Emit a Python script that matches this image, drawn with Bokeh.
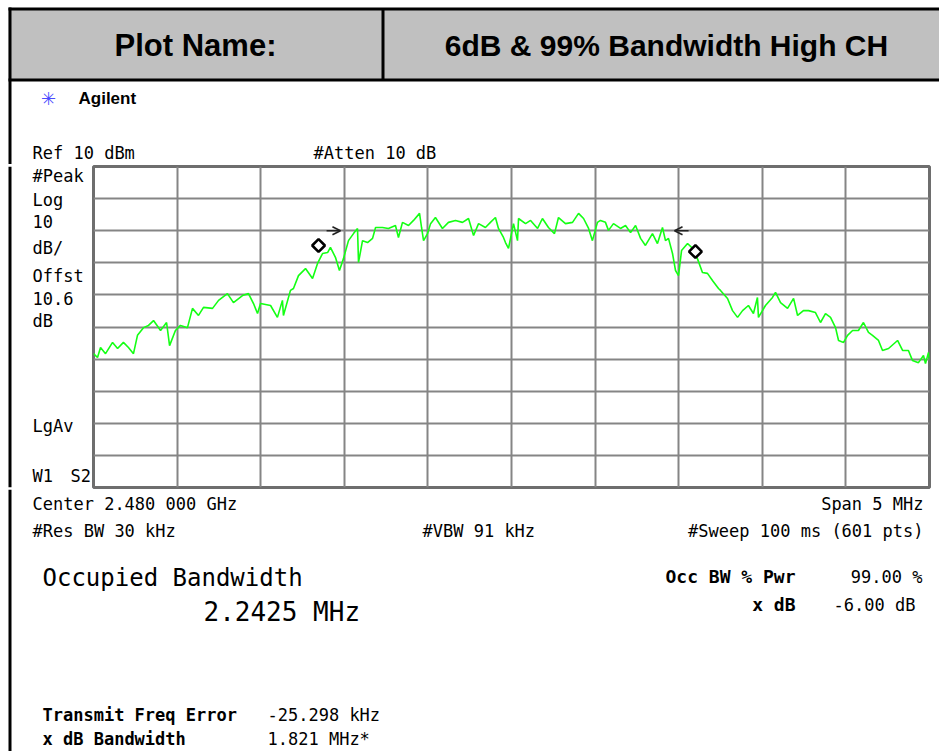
from bokeh.plotting import figure
from bokeh.layouts import column, row
from bokeh.models import (Range1d, FixedTicker, Grid, Arrow, OpenHead, ColumnDataSource)
from bokeh.core.properties import value
from bokeh.embed import file_html
from bokeh.resources import INLINE

# ---------------- data ----------------
center_ghz = 2.480
span_mhz = 5.0
ref_dbm = 10.0
db_per_div = 10.0

# trace: frequency offset from centre (MHz) and level (dBm)
freq_offset_mhz = [
    -2.500, -2.476, -2.458, -2.428, -2.386, -2.356, -2.321, -2.291, -2.261, -2.237,
    -2.201, -2.171, -2.141, -2.099, -2.063, -2.045, -2.010, -1.980, -1.938, -1.908,
    -1.872, -1.842, -1.788, -1.752, -1.699, -1.663, -1.609, -1.573, -1.543, -1.519,
    -1.501, -1.441, -1.400, -1.370, -1.364, -1.322, -1.304, -1.274, -1.232, -1.190,
    -1.160, -1.130, -1.100, -1.083, -1.053, -1.029, -1.005, -0.975, -0.945, -0.921,
    -0.915, -0.891, -0.861, -0.831, -0.813, -0.772, -0.736, -0.694, -0.676, -0.652,
    -0.616, -0.586, -0.550, -0.538, -0.526, -0.502, -0.484, -0.455, -0.413, -0.377,
    -0.335, -0.293, -0.257, -0.227, -0.197, -0.156, -0.126, -0.096, -0.078, -0.048,
    -0.036, -0.018, 0.012, 0.036, 0.042, 0.084, 0.114, 0.156, 0.185, 0.221,
    0.257, 0.281, 0.323, 0.365, 0.401, 0.431, 0.461, 0.484, 0.514, 0.532,
    0.562, 0.580, 0.610, 0.652, 0.682, 0.712, 0.742, 0.772, 0.801, 0.843,
    0.873, 0.903, 0.921, 0.939, 0.963, 0.981, 0.999, 1.017, 1.053, 1.083,
    1.112, 1.142, 1.172, 1.202, 1.238, 1.250, 1.292, 1.322, 1.352, 1.382,
    1.417, 1.447, 1.471, 1.477, 1.519, 1.561, 1.579, 1.609, 1.651, 1.687,
    1.711, 1.746, 1.776, 1.818, 1.848, 1.878, 1.908, 1.938, 1.956, 1.986,
    2.010, 2.040, 2.075, 2.105, 2.135, 2.159, 2.195, 2.219, 2.255, 2.309,
    2.339, 2.374, 2.398, 2.434, 2.464, 2.476, 2.494, 2.500,
]
level_dbm = [
    -48.3, -49.5, -46.4, -48.3, -44.8, -46.7, -44.8, -46.4, -48.3, -42.6,
    -40.2, -39.5, -38.0, -41.1, -38.6, -45.8, -41.1, -39.5, -40.2, -34.2,
    -36.4, -33.9, -34.2, -31.7, -29.6, -32.4, -30.2, -29.6, -32.7, -35.8,
    -32.7, -33.3, -37.0, -31.7, -36.4, -28.6, -28.0, -24.0, -21.8, -24.9,
    -20.2, -17.1, -16.8, -15.2, -18.3, -22.4, -18.7, -13.1, -10.9, -9.3,
    -19.9, -13.1, -13.7, -12.4, -9.0, -9.0, -9.3, -8.4, -12.1, -7.4,
    -8.4, -6.8, -4.6, -9.0, -13.1, -10.9, -7.8, -5.9, -9.3, -7.4,
    -6.8, -7.4, -6.2, -11.5, -7.8, -9.0, -7.4, -5.9, -9.3, -12.1,
    -13.7, -15.5, -7.8, -13.1, -6.2, -7.8, -6.8, -9.3, -6.2, -9.0,
    -10.9, -5.9, -7.8, -7.4, -4.6, -6.2, -9.3, -13.1, -7.4, -6.8,
    -7.4, -9.9, -7.8, -9.3, -8.4, -10.6, -8.4, -12.4, -14.6, -10.9,
    -14.0, -9.0, -13.1, -12.4, -17.1, -22.4, -24.0, -16.2, -14.0, -15.5,
    -18.7, -23.0, -23.3, -25.5, -28.0, -28.6, -31.1, -34.9, -37.0, -34.9,
    -33.3, -35.8, -30.8, -37.0, -33.3, -30.8, -29.2, -32.4, -34.2, -31.1,
    -36.4, -34.9, -34.9, -35.5, -38.6, -35.8, -37.0, -40.2, -44.2, -44.8,
    -42.6, -41.1, -41.1, -38.6, -41.7, -42.6, -44.2, -47.3, -46.7, -44.2,
    -47.3, -47.3, -50.4, -51.1, -48.9, -51.4, -47.9, -50.1,
]

# 99 % occupied-bandwidth markers (diamonds)
marker_offset_mhz = [-1.154, 1.100]
marker_dbm = [-14.6, -16.5]

# x dB bandwidth arrows
arrow_start_mhz = [-1.106, 1.059]
arrow_end_mhz = [-1.023, 0.975]
arrow_dbm = [-10.0, -10.0]

# texts
header_left = "Plot Name:"
header_right = "6dB & 99% Bandwidth High CH"
brand = "Agilent"
ref_text = "Ref 10 dBm"
atten_text = "#Atten 10 dB"
left_labels = ["#Peak", "Log", "10", "dB/", "Offst", "10.6", "dB"]
avg_label = "LgAv"
window_labels = ["W1", "S2"]
center_text = "Center 2.480 000 GHz"
span_text = "Span 5 MHz"
rbw_text = "#Res BW 30 kHz"
vbw_text = "#VBW 91 kHz"
sweep_text = "#Sweep 100 ms (601 pts)"
obw_title = "Occupied Bandwidth"
obw_value = "2.2425 MHz"
occ_pwr_label, occ_pwr_value = "Occ BW % Pwr", "99.00 %"
xdb_label, xdb_value = "x dB", "-6.00 dB"
tfe_label, tfe_value = "Transmit Freq Error", "-25.298 kHz"
xbw_label, xbw_value = "x dB Bandwidth", "1.821 MHz*"

MONO = "DejaVu Sans Mono"
SANS = "Liberation Sans"

# ---------------- layout geometry (page pixels) ----------------
W, H = 939, 751
Y_TOP, Y_MID = 164, 489
X_SPEC = 91


def deco(x0, x1, y0, y1):
    f = figure(width=x1 - x0, height=y1 - y0, output_backend="svg", toolbar_location=None,
               x_range=Range1d(x0, x1), y_range=Range1d(y1, y0),
               x_axis_type=None, y_axis_type=None, min_border=0)
    f.outline_line_color = None
    f.background_fill_color = "white"
    f.border_fill_color = "white"
    return f


def rect(f, x0, y0, x1, y1, color):
    f.quad(left=[x0], right=[x1], top=[y0], bottom=[y1], fill_color=color, line_color=None)


def txt(f, t, x, y, size, align="left", bold=False, font=MONO, color="black"):
    f.text(x=[x], y=[y], text=[t], text_font=value(font), text_font_size=f"{size}px",
           text_font_style="bold" if bold else "normal", text_align=align,
           text_baseline="middle", text_color=color)


# ---- top block: header + reference line ----
top = deco(0, W, 0, Y_TOP)
rect(top, 8, 8, W, 80, "#c0c0c0")
rect(top, 8, 7, W, 10, "black")
rect(top, 8, 78, W, 81, "black")
rect(top, 381, 8, 384, 80, "black")
rect(top, 8, 7, 11, Y_TOP, "black")
txt(top, header_left, 195, 45, 31, "center", True, SANS)
txt(top, header_right, 666, 45, 30, "center", True, SANS)
txt(top, "\u2733", 48, 98, 18, "center", False, "DejaVu Sans", "#4a4aff")
txt(top, brand, 78, 98, 17, "left", True, SANS)
txt(top, ref_text, 32, 152, 17)
txt(top, atten_text, 313, 152, 17)

# ---- middle left: side annotations ----
side = deco(0, X_SPEC, Y_TOP, Y_MID)
rect(side, 8, Y_TOP, 11, Y_MID, "black")
for t, yy in zip(left_labels, [174, 198, 220, 247, 275, 298, 320]):
    txt(side, t, 32, yy, 17)
txt(side, avg_label, 32, 427, 17)
for t, xx in zip(window_labels, [32, 70]):
    txt(side, t, xx, 477, 17)

# ---- spectrum ----
half = span_mhz / 2
p = figure(width=W - X_SPEC, height=Y_MID - Y_TOP, output_backend="svg", toolbar_location=None,
           x_range=Range1d(-half, half),
           y_range=Range1d(ref_dbm - 10 * db_per_div, ref_dbm),
           x_axis_type=None, y_axis_type=None,
           min_border_left=2, min_border_right=10, min_border_top=2, min_border_bottom=2)
p.outline_line_color = "#6e6e6e"
p.outline_line_width = 3
p.background_fill_color = "white"
p.border_fill_color = "white"

x_div = [-half + i * span_mhz / 10 for i in range(11)]
y_div = [ref_dbm - i * db_per_div for i in range(11)]
p.add_layout(Grid(dimension=0, ticker=FixedTicker(ticks=x_div),
                  grid_line_color="#858585", grid_line_width=2))
p.add_layout(Grid(dimension=1, ticker=FixedTicker(ticks=y_div),
                  grid_line_color="#858585", grid_line_width=2))

p.line(freq_offset_mhz, level_dbm, line_color="#14ff14", line_width=1.6)

p.scatter(marker_offset_mhz, marker_dbm, marker="square", size=9, angle=0.785,
          fill_color="white", line_color="black", line_width=2.6)

asrc = ColumnDataSource(dict(x0=arrow_start_mhz, x1=arrow_end_mhz, y=arrow_dbm))
p.add_layout(Arrow(source=asrc, x_start="x0", y_start="y", x_end="x1", y_end="y",
                   line_color="#222222", line_width=1.6,
                   end=OpenHead(size=8, line_color="#222222", line_width=1.6)))

# ---- bottom block: settings and results ----
bot = deco(0, W, Y_MID, H)
rect(bot, 8, Y_MID, 11, H, "black")
txt(bot, center_text, 32, 503, 17)
txt(bot, span_text, 923, 503, 17, "right")
txt(bot, rbw_text, 32, 530, 17)
txt(bot, vbw_text, 422, 530, 17)
txt(bot, sweep_text, 923, 530, 17, "right")
txt(bot, obw_title, 42, 577, 24)
txt(bot, obw_value, 203, 611, 26)
txt(bot, occ_pwr_label, 795, 576, 18, "right", True)
txt(bot, occ_pwr_value, 922, 576, 17, "right")
txt(bot, xdb_label, 795, 604, 18, "right", True)
txt(bot, xdb_value, 915, 604, 17, "right")
txt(bot, tfe_label, 42, 714, 17, "left", True)
txt(bot, tfe_value, 267, 714, 17)
txt(bot, xbw_label, 42, 738, 17, "left", True)
txt(bot, xbw_value, 267, 738, 17)

layout = column(top, row(side, p), bot)
open("out.html", "w").write(file_html(layout, INLINE))
